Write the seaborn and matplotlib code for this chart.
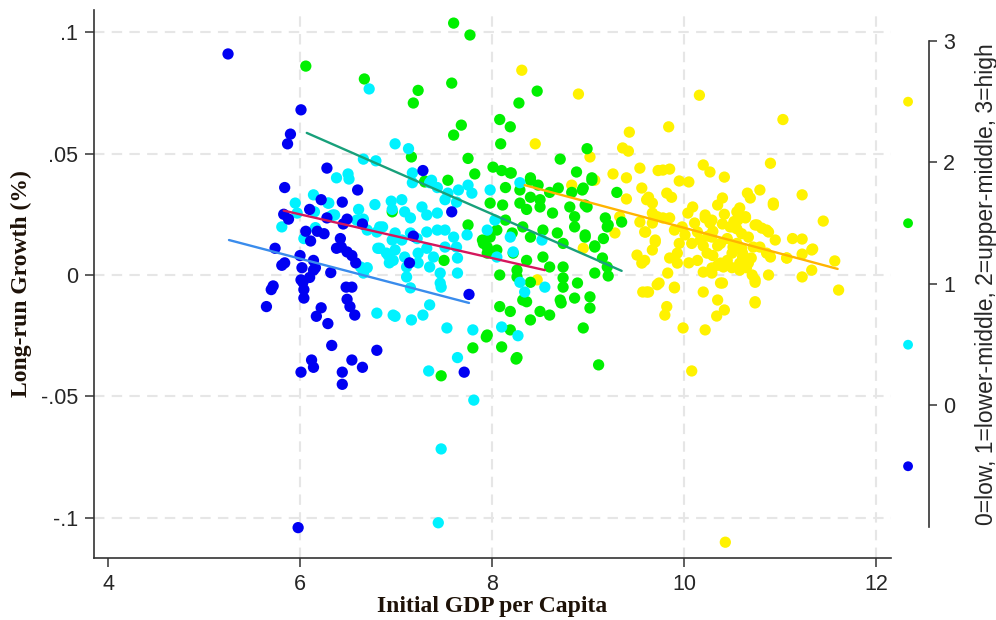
import matplotlib
matplotlib.use("Agg")
import matplotlib.pyplot as plt
import pandas as pd
import seaborn as sns

# Income group: 0=low, 1=lower-middle, 2=upper-middle, 3=high
group_codes = [0, 1, 2, 3]
group_colors = ["#0000f2", "#00f2ff", "#00f000", "#fff200"]
fit_colors = ["#3a8cec", "#d4175c", "#18a07a", "#ffb400"]

# (initial GDP per capita, long-run growth)
low_points = [
    (5.25, .091), (6.01, .068), (5.90, .058), (5.87, .054), (5.84, .036), (6.28, .044),
    (6.60, .035), (6.22, .031), (6.44, .030), (6.10, .027), (5.83, .025), (5.88, .023),
    (6.49, .023), (6.28, .0235), (6.45, .021), (6.65, .021), (6.06, .018), (6.18, .018),
    (6.25, .017), (6.11, .014), (6.42, .015), (6.43, .0115), (6.38, .011), (6.49, .0095),
    (6.54, .008), (6.58, .005), (5.74, .011), (6.00, .008), (5.84, .005), (5.81, .004),
    (6.02, .003), (6.14, .006), (6.16, .003), (6.14, .002), (6.32, .001), (6.10, -.001),
    (6.03, -.003), (6.04, -.006), (6.04, -.0095), (6.01, -.002), (5.72, -.0045), (5.70, -.006),
    (5.65, -.013), (6.48, -.005), (6.54, -.005), (6.49, -.010), (6.52, -.013), (6.57, -.0165),
    (6.22, -.0135), (6.17, -.017), (6.29, -.020), (6.33, -.029), (6.80, -.031), (6.12, -.035),
    (6.14, -.038), (6.01, -.040), (6.54, -.035), (6.44, -.040), (6.65, -.038), (6.44, -.045),
    (7.71, -.040), (5.98, -.104), (7.28, .043), (7.58, .026), (7.18, .016), (7.14, .005),
    (7.76, -.008),
]
lower_middle_points = [
    (6.14, .033), (5.95, .0296), (5.97, .0255), (6.15, .026), (5.81, .0198), (6.04, .015),
    (6.16, .0195), (6.30, .0296), (6.31, .024), (6.99, .054), (6.66, .0477), (6.79, .047),
    (6.38, .040), (6.50, .0416), (6.51, .0395), (6.29, .0296), (6.34, .0247), (6.61, .027),
    (6.78, .029), (6.95, .0304), (6.96, .027), (6.66, .023), (6.70, .0185), (6.80, .0177),
    (6.86, .0198), (6.96, .0144), (6.81, .011), (6.90, .009), (6.97, .006), (6.93, .005),
    (6.63, .0033), (6.66, .0008), (6.80, -.0157), (6.99, -.017), (6.72, .0766), (7.13, .052),
    (7.17, .042), (7.17, .038), (7.37, .039), (7.43, .036), (7.54, .0337), (7.65, .035),
    (7.75, .037), (7.79, .0337), (7.98, .035), (8.29, .038), (7.51, .031), (7.63, .030),
    (7.06, .031), (7.09, .026), (7.15, .0235), (7.27, .028), (7.32, .0247), (7.43, .0255),
    (6.59, .0226), (6.36, .0247), (6.83, .0198), (6.99, .0173), (7.06, .0144), (7.15, .0173),
    (7.22, .015), (7.32, .0177), (7.43, .0185), (7.51, .0185), (7.60, .0156), (7.74, .0165),
    (6.83, .011), (6.92, .008), (6.99, .0103), (7.09, .0074), (7.23, .009), (7.32, .011),
    (7.39, .0074), (7.51, .0115), (7.63, .0115), (6.70, .003), (7.11, .0033), (7.23, .005),
    (7.35, .0033), (7.46, .0008), (7.64, .007), (7.95, .0185), (8.03, .0226), (8.19, .0156),
    (8.22, .0095), (8.05, .0074), (8.29, -.003), (8.34, -.007), (8.55, -.005), (8.52, .0144),
    (7.11, -.0008), (7.15, -.0053), (7.46, -.0033), (7.64, .0008), (7.35, -.0123), (7.35, .038),
    (6.97, -.0165), (7.16, -.0185), (7.28, -.0165), (7.47, -.005), (7.53, -.0218), (7.80, -.0226),
    (7.64, -.034), (8.10, -.0214), (8.27, -.025), (7.34, -.0395), (7.81, -.0515), (7.47, -.0716),
    (7.44, -.102),
]
upper_middle_points = [
    (6.06, .086), (6.67, .0807), (7.23, .076), (7.18, .0708), (7.58, .079), (7.60, .1037),
    (7.77, .0988), (8.47, .0757), (8.28, .0708), (8.08, .064), (8.19, .061), (7.68, .0617),
    (7.60, .0576), (8.09, .054), (8.99, .052), (8.71, .0477), (8.88, .0424), (7.16, .0486),
    (7.75, .048), (8.01, .0444), (8.10, .043), (8.19, .042), (7.82, .0416), (7.54, .039),
    (7.30, .0383), (8.40, .039), (8.48, .037), (8.29, .035), (8.40, .032), (8.50, .031),
    (8.60, .034), (8.69, .0358), (8.83, .034), (8.94, .035), (9.04, .039), (9.30, .034),
    (7.98, .0296), (8.11, .0288), (8.29, .0296), (8.36, .027), (8.50, .028), (8.63, .0255),
    (8.81, .028), (8.97, .0288), (7.75, .0206), (7.90, .0144), (7.95, .0115), (8.05, .0185),
    (8.14, .0226), (8.21, .0173), (8.32, .0198), (8.40, .0156), (8.53, .0185), (8.68, .0173),
    (8.74, .013), (8.86, .024), (8.86, .0198), (8.97, .0156), (9.07, .0115), (9.18, .0235),
    (9.20, .0198), (9.16, .015), (9.15, .007), (9.20, .0033), (9.21, -.0004), (9.35, .0218),
    (8.22, .009), (8.36, .006), (8.53, .0074), (8.60, .0033), (8.74, .0033), (8.74, -.0012),
    (8.89, -.0033), (9.02, -.009), (8.08, .0), (8.26, -.0008), (8.40, -.003), (8.32, -.0103),
    (8.71, -.0103), (7.50, .006), (8.14, .036), (8.20, .042), (8.40, .040), (7.98, .0156),
    (7.91, .013), (7.95, .009), (8.05, .0103), (8.26, .002), (8.36, -.011), (8.08, -.013),
    (8.19, -.015), (8.40, -.0185), (8.50, -.015), (8.60, -.0165), (8.72, -.0115), (8.74, -.005),
    (8.86, -.0095), (8.95, -.0218), (7.95, -.0247), (8.19, -.0226), (7.80, -.030), (8.10, -.0296),
    (8.26, -.034), (7.47, -.0415), (7.94, -.0255), (8.25, -.0346), (9.11, -.037), (9.04, .040),
    (8.95, .0358), (8.99, .028), (9.21, .0206), (8.97, .0165), (9.07, .012), (9.07, .0008),
    (9.02, -.0136), (6.96, .026), (7.30, .0387),
]
high_points = [
    (8.31, .0843), (8.90, .0745), (8.45, .054), (9.43, .0588), (9.36, .0523), (9.42, .051),
    (9.54, .044), (9.26, .0416), (9.40, .040), (9.56, .0358), (9.02, .0486), (9.07, .039),
    (8.83, .037), (9.40, .0313), (9.61, .031), (9.67, .0255), (9.33, .024), (9.54, .0218),
    (9.59, .0177), (9.28, .0173), (9.70, .0144), (8.95, .011), (9.51, .0082), (9.59, .006),
    (9.61, -.007), (9.72, -.004), (8.47, -.002), (9.73, .043), (10.16, .074), (9.84, .061),
    (9.78, .0432), (9.85, .0436), (10.20, .0453), (10.27, .0424), (10.42, .0403), (9.95, .0387),
    (10.05, .0383), (9.63, .032), (9.82, .0337), (9.87, .032), (9.67, .0296), (10.40, .0317),
    (10.35, .0288), (10.09, .028), (10.04, .0255), (9.72, .024), (9.78, .0235), (9.67, .0214),
    (9.60, .0177), (9.98, .0198), (10.11, .0214), (10.22, .0235), (10.27, .0214), (10.14, .0177),
    (10.17, .0144), (10.29, .0156), (10.38, .013), (9.70, .0136), (9.67, .0103), (9.56, .0049),
    (9.93, .009), (9.85, .007), (9.93, .0049), (9.83, .0008), (10.14, .006), (10.20, .0012),
    (10.29, .0029), (10.38, .0049), (10.40, -.0033), (9.57, -.007), (9.63, -.007), (9.74, -.0033),
    (9.90, -.0053), (10.20, -.007), (10.35, -.0103), (10.42, -.0144), (9.82, -.013), (9.80, -.0165),
    (9.99, -.0218), (10.22, -.0226), (11.03, .064), (10.90, .046), (10.66, .0337), (10.79, .035),
    (10.69, .0317), (10.58, .0276), (10.93, .0296), (11.23, .033), (11.45, .0222), (10.22, .0247),
    (10.29, .0226), (10.48, .0198), (10.56, .0226), (10.64, .024), (10.76, .0206), (10.86, .0185),
    (10.95, .0144), (11.13, .015), (11.23, .0148), (11.34, .0107), (11.57, .0058), (11.61, -.0062),
    (11.23, -.0008), (11.33, .002), (11.07, .007), (10.86, .009), (10.72, .0115), (10.61, .009),
    (10.58, .0049), (10.74, -.002), (10.88, .0), (10.41, .0033), (10.29, .0008), (10.08, .013),
    (10.24, .009), (10.01, .0165), (9.90, .0185), (9.90, -.005), (10.38, -.0033), (10.74, -.011),
    (10.34, -.0169), (10.08, -.0395), (10.43, -.110), (10.93, .0288), (10.55, .026), (10.64, .0235),
    (10.51, .0198), (10.74, .0206), (10.81, .0193), (10.88, .0177), (11.33, .0103), (11.23, .0086),
    (11.07, .007), (10.90, .0074), (10.79, .0115), (10.67, .0156), (10.51, .0115), (10.61, .0074),
    (10.67, .0049), (10.58, .002), (10.71, .0), (10.74, -.003), (10.74, -.0115), (10.30, .018),
    (10.35, .012), (10.45, .015), (10.50, .009), (10.55, .013), (10.60, .017), (10.40, .021),
    (10.45, .006), (10.50, .003), (10.30, .008), (10.35, .004), (10.55, .019), (10.60, .011),
    (10.65, .003), (10.70, .007), (10.20, .012), (10.25, .016), (10.42, .025), (10.52, .022),
    (9.85, .0235), (9.95, .013), (10.05, .005),
]

# within-group linear fits: start / end of each fitted line
fit_x_start = [5.26, 5.83, 6.07, 8.34]
fit_x_end = [7.76, 8.55, 9.35, 11.60]
fit_y_start = [0.0144, 0.0265, 0.0585, 0.0370]
fit_y_end = [-0.0115, 0.0020, 0.0017, 0.0025]

xticks = [4, 6, 8, 10, 12]
yticks = [-0.1, -0.05, 0, 0.05, 0.1]
ytick_labels = ["-.1", "-.05", "0", ".05", ".1"]
key_ticks = [0, 1, 2, 3]
key_values = [-0.5, 0.5, 1.5, 2.5]
key_title = "0=low, 1=lower-middle, 2=upper-middle, 3=high"

frames = []
for code, pts in zip(group_codes, [low_points, lower_middle_points, upper_middle_points, high_points]):
    part = pd.DataFrame(pts, columns=["gdp", "growth"])
    part["group"] = code
    frames.append(part)
# draw high-income first so the lower groups sit on top
df = pd.concat(frames[::-1], ignore_index=True)

sns.set_style("white")
plt.rcParams["font.family"] = ["Liberation Sans", "DejaVu Sans"]

fig = plt.figure(figsize=(9.96, 6.2), dpi=100)
ax = fig.add_axes([0.0944, 0.1, 0.8002, 0.8839])

sns.scatterplot(
    data=df, x="gdp", y="growth", hue="group",
    palette=dict(zip(group_codes, group_colors)),
    s=66, linewidth=0, alpha=1, legend=False, ax=ax, zorder=3,
)
for i in range(len(group_codes)):
    sns.lineplot(
        x=[fit_x_start[i], fit_x_end[i]], y=[fit_y_start[i], fit_y_end[i]],
        color=fit_colors[i], linewidth=1.7, ax=ax, zorder=4,
    )

ax.set_xlim(3.854, 12.156)
ax.set_ylim(-0.1165, 0.1091)
ax.set_xticks(xticks)
ax.set_yticks(yticks, labels=ytick_labels)
ax.tick_params(axis="both", labelsize=15.5, direction="out", length=6.5, width=1.1,
               color="#333333", pad=5, left=True, bottom=True)
ax.grid(True, color="#e6e6e6", linestyle=(0, (5, 3.5)), linewidth=1.5)
ax.set_axisbelow(True)
ax.xaxis.get_gridlines()[0].set_visible(False)
for side in ["top", "right"]:
    ax.spines[side].set_visible(False)
for side in ["left", "bottom"]:
    ax.spines[side].set_color("#333333")
    ax.spines[side].set_linewidth(1.2)

label_font = dict(family=["Liberation Serif", "DejaVu Serif"], weight="bold",
                  size=17, color="#1e1208")
ax.set_xlabel("Initial GDP per Capita", labelpad=1, **label_font)
ax.set_ylabel("Long-run Growth (%)", labelpad=6, **label_font)

# colour key on the right
kax = fig.add_axes([0.8906, 0.15, 0.0422, 0.784])
kax.set_xlim(0, 1)
kax.set_ylim(-1, 3)
kax.scatter([0.5] * len(key_values), key_values, c=group_colors, s=50, linewidths=0)
for side in ["top", "left", "bottom"]:
    kax.spines[side].set_visible(False)
kax.spines["right"].set_color("#333333")
kax.spines["right"].set_linewidth(1.2)
kax.set_xticks([])
kax.yaxis.tick_right()
kax.set_yticks(key_ticks)
kax.tick_params(axis="y", labelsize=15.5, direction="out", length=6, width=1.1,
                color="#333333", pad=4, right=True)
kax.yaxis.set_label_position("right")
kax.set_ylabel(key_title, fontsize=16.5, labelpad=14)
kax.patch.set_alpha(0)

fig.savefig("out.png", dpi=100)
